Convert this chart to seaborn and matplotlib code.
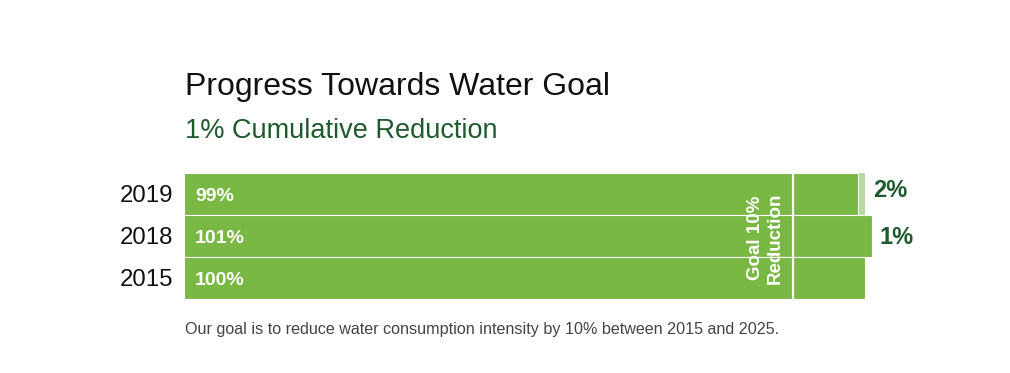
import pandas as pd
import matplotlib.pyplot as plt
import seaborn as sns

# data
years = ['2019', '2018', '2015']
values = [99, 101, 100]
bar_labels = ['99%', '101%', '100%']
ghost = [100, 0, 0]          # light strip behind 2019
side_labels = ['2%', '1%', '']
side_shift = [-0.08, 0.03, 0]
goal = 90

GREEN = '#78b843'
LIGHT = '#b9dba0'
DARK = '#1d5a2c'

sns.set_theme(style='white')
plt.rcParams['font.family'] = ['Liberation Sans', 'DejaVu Sans']

df = pd.DataFrame({'year': years, 'value': values, 'ghost': ghost})

fig = plt.figure(figsize=(10.1, 3.73), dpi=100)
ax = fig.add_axes([184 / 1010, 74 / 373, (1010 - 184) / 1010, 126 / 373])

sns.barplot(data=df, y='year', x='ghost', order=years, color=LIGHT,
            width=1.0, saturation=1, edgecolor='none', ax=ax)
sns.barplot(data=df, y='year', x='value', order=years, color=GREEN,
            width=1.0, saturation=1, edgecolor='white', linewidth=0.8, ax=ax)

ax.set_xlim(0, (1010 - 184) / 6.81)
ax.set_ylim(2.5, -0.5)
ax.axvline(goal - 0.6, color='white', lw=1.6)

for i, (lab, side, v) in enumerate(zip(bar_labels, side_labels, values)):
    ax.text(1.6, i + 0.07, lab, color='white', fontsize=14, fontweight='bold',
            va='center', ha='left')
    if side:
        ax.text(max(v, 100) + 1.2, i + side_shift[i], side, color=DARK,
                fontsize=17, fontweight='bold', va='center', ha='left')

ax.text(goal - 2.0, 1.05, 'Goal 10%\nReduction', color='white', fontsize=13.5,
        fontweight='bold', rotation=90, ha='right', va='center',
        linespacing=1.2, multialignment='center')

ax.set_xlabel('')
ax.set_ylabel('')
ax.set_xticks([])
ax.tick_params(axis='y', length=0, pad=7.5, labelsize=17.3, labelcolor='#111111')
sns.despine(ax=ax, left=True, bottom=True)

fig.text(185 / 1010, 1 - 95 / 373, 'Progress Towards Water Goal',
         fontsize=23, color='#111111', va='baseline', ha='left')
fig.text(185 / 1010, 1 - 138 / 373, '1% Cumulative Reduction',
         fontsize=19.5, color=DARK, va='baseline', ha='left')
fig.text(185 / 1010, 1 - 334 / 373,
         'Our goal is to reduce water consumption intensity by 10% between 2015 and 2025.',
         fontsize=11.6, color='#444444', va='baseline', ha='left')

fig.savefig('out.png', dpi=100, facecolor='white')
